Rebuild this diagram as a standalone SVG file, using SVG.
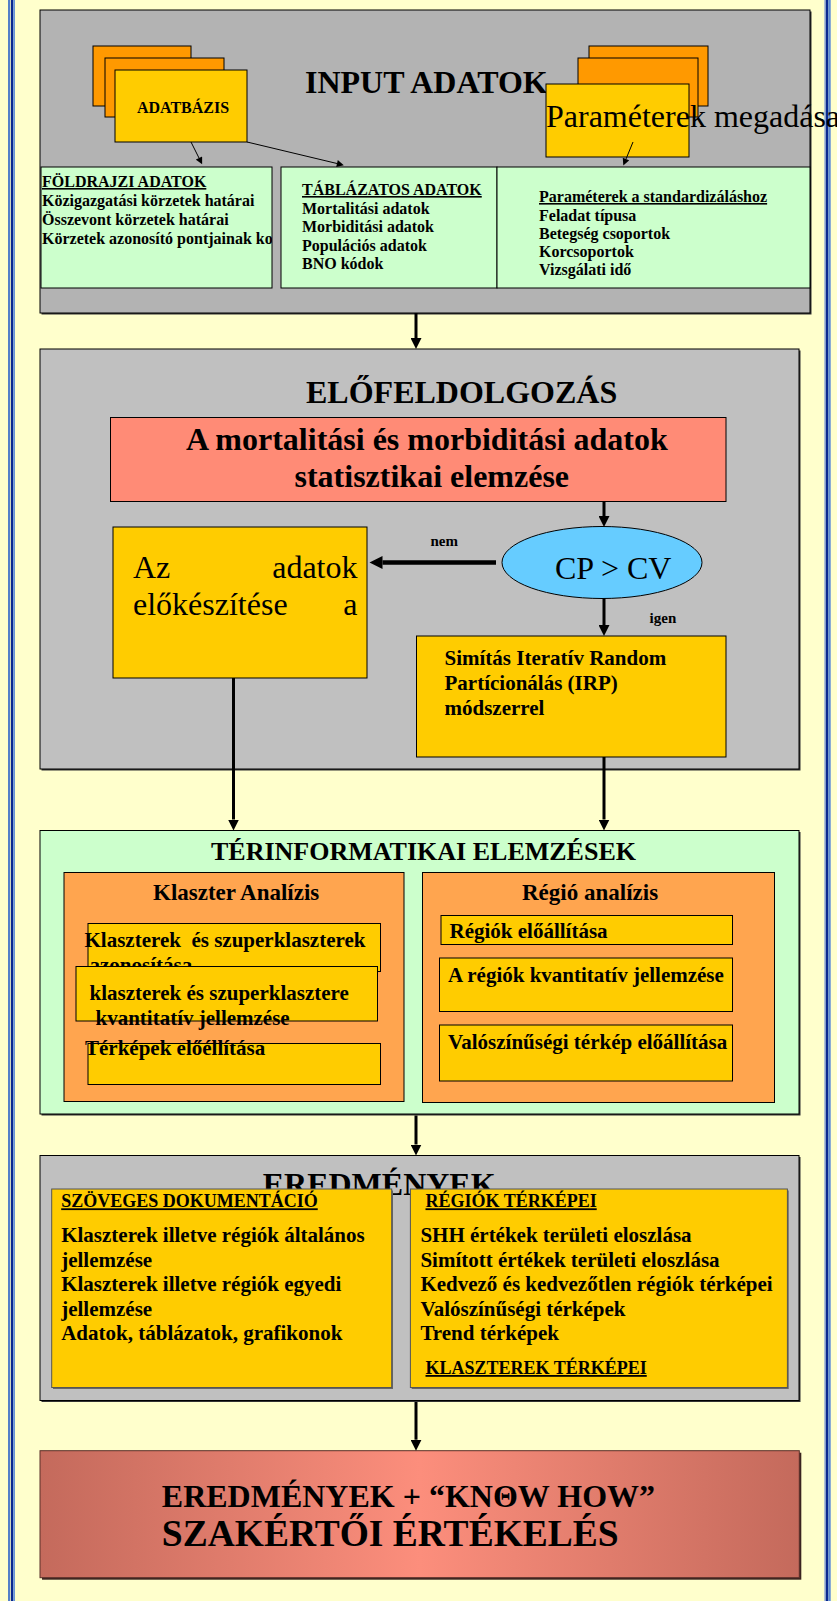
<svg xmlns="http://www.w3.org/2000/svg" width="837" height="1601" viewBox="0 0 837 1601">
<style>
text{font-family:"Liberation Serif","Times New Roman",serif;fill:#000}
.b{font-weight:bold}
.u{text-decoration:underline}
.box{stroke:#000;stroke-width:1}
.shadow{fill:#333}
.gray1{fill:#B3B3B3}
.gray2{fill:#C0C0C0}
.green{fill:#CCFFCC}
.orange{fill:#FF9900}
.yellow{fill:#FFCC00}
.org2{fill:#FFA54F}
.salmon{fill:#FF8B76}
.conn{stroke:#000;fill:none}
.thick{stroke-width:3}
.thin{stroke-width:1}
.s16{font-size:16px}
.s21{font-size:21px}
.s32{font-size:32px}
</style>
<defs>
<marker id="ah" viewBox="0 0 10 10" refX="0" refY="5" markerWidth="11" markerHeight="11" markerUnits="userSpaceOnUse" orient="auto"><path d="M0,0 L10,5 L0,10 z" fill="#000"/></marker>
<marker id="ahbig" viewBox="0 0 10 10" refX="0" refY="5" markerWidth="14" markerHeight="13" markerUnits="userSpaceOnUse" orient="auto"><path d="M0,0 L10,5 L0,10 z" fill="#000"/></marker>
<marker id="ahs" viewBox="0 0 10 10" refX="0" refY="5" markerWidth="8" markerHeight="7" markerUnits="userSpaceOnUse" orient="auto"><path d="M0,0 L10,5 L0,10 z" fill="#000"/></marker>
<linearGradient id="fin" x1="0" y1="0" x2="1" y2="0">
<stop offset="0" stop-color="#C46A5C"/>
<stop offset="0.5" stop-color="#FC8E7C"/>
<stop offset="1" stop-color="#C46A5C"/>
</linearGradient>
<clipPath id="clipL"><rect x="41" y="167" width="231" height="121"/></clipPath>
</defs>

<rect x="0" y="0" width="837" height="1601" fill="#FFFFCC"/>
<g id="page-border">
<rect x="8" y="0" width="2" height="1601" fill="#5580C8"/>
<rect x="10.8" y="0" width="2.4" height="1601" fill="#0A2890"/>
<rect x="13.2" y="0" width="1.8" height="1601" fill="#6A94D8"/>
<rect x="824.3" y="0" width="1.5" height="1601" fill="#8FA8D8"/>
<rect x="825.8" y="0" width="2.5" height="1601" fill="#0A2890"/>
<rect x="828.3" y="0" width="2.4" height="1601" fill="#5B8AD6"/>
</g>

<g id="input-adatok">
<rect class="shadow" x="41.5" y="11.5" width="770" height="303"/>
<rect class="box gray1" x="40" y="10" width="770" height="303"/>
<text class="b s32" x="305" y="93">INPUT ADATOK</text>
</g>

<g id="adatbazis">
<rect class="box orange" x="93" y="46" width="98" height="60"/>
<rect class="box orange" x="105" y="58" width="119" height="59"/>
<rect class="box yellow" x="115" y="70" width="132" height="72"/>
<text class="b s16" x="183" y="113" text-anchor="middle">ADATBÁZIS</text>
</g>

<g id="parameterek">
<rect class="box orange" x="589" y="46" width="119" height="60"/>
<rect class="box orange" x="578" y="58" width="120" height="59"/>
<rect class="yellow" x="546" y="84" width="143" height="73"/>
<text x="546" y="127" font-size="32">Paraméterek megadása</text>
<rect x="546" y="84" width="143" height="73" fill="none" stroke="#000" stroke-width="1"/>
</g>

<g id="foldrajzi">
<rect class="box green" x="41" y="167" width="231" height="121"/>
<g clip-path="url(#clipL)">
<text class="b s16 u" x="42" y="187">FÖLDRAJZI ADATOK</text>
<text class="b s16" x="42" y="206">Közigazgatási körzetek határai</text>
<text class="b s16" x="42" y="225">Összevont körzetek határai</text>
<text class="b s16" x="42" y="244">Körzetek azonosító pontjainak koo</text>
</g>
</g>

<g id="tablazatos">
<rect class="box green" x="281" y="167" width="216" height="121"/>
<text class="b s16 u" x="302" y="195">TÁBLÁZATOS ADATOK</text>
<text class="b s16" x="302" y="214">Mortalitási adatok</text>
<text class="b s16" x="302" y="232">Morbiditási adatok</text>
<text class="b s16" x="302" y="251">Populációs adatok</text>
<text class="b s16" x="302" y="269">BNO kódok</text>
</g>

<g id="standard">
<rect class="box green" x="497" y="167" width="313" height="121"/>
<text class="b s16 u" x="539" y="202">Paraméterek a standardizáláshoz</text>
<text class="b s16" x="539" y="221">Feladat típusa</text>
<text class="b s16" x="539" y="239">Betegség csoportok</text>
<text class="b s16" x="539" y="257">Korcsoportok</text>
<text class="b s16" x="539" y="275">Vizsgálati idő</text>
</g>

<g id="elofeldolgozas">
<rect class="shadow" x="41.5" y="350.5" width="759" height="420"/>
<rect class="box gray2" x="40" y="349" width="759" height="420"/>
<text class="b s32" x="306" y="403">ELŐFELDOLGOZÁS</text>
</g>

<g id="statisztikai">
<rect class="box salmon" x="110.5" y="417.5" width="615.5" height="84"/>
<text class="b" font-size="32" x="186" y="450">A mortalitási és morbiditási adatok</text>
<text class="b" font-size="32" x="294.5" y="487">statisztikai elemzése</text>
</g>

<g id="elokeszites">
<rect class="box yellow" x="113" y="527" width="254" height="151"/>
<text class="s32" x="133" y="578">Az</text>
<text class="s32" x="357.5" y="578" text-anchor="end">adatok</text>
<text class="s32" x="133" y="615">előkészítése</text>
<text class="s32" x="357.5" y="615" text-anchor="end">a</text>
</g>

<g id="cpcv">
<ellipse cx="602" cy="562.5" rx="100" ry="36" fill="#66CCFF" stroke="#000" stroke-width="1"/>
<text class="s32" x="555" y="579">CP &gt; CV</text>
</g>

<g id="irp">
<rect class="box yellow" x="416.5" y="636" width="309.5" height="121"/>
<text class="b s21" x="444.5" y="665">Simítás Iteratív Random</text>
<text class="b s21" x="444.5" y="690">Partícionálás (IRP)</text>
<text class="b s21" x="444.5" y="715">módszerrel</text>
</g>

<g id="terinformatikai">
<rect class="shadow" x="41.5" y="832" width="759" height="283.5"/>
<rect class="box green" x="40" y="830.5" width="759" height="283.5"/>
<text class="b" font-size="26" x="211" y="860">TÉRINFORMATIKAI ELEMZÉSEK</text>
</g>

<g id="klaszter">
<rect class="box org2" x="64" y="872.5" width="340" height="229"/>
<text class="b" font-size="23" x="153" y="900">Klaszter Analízis</text>
<rect class="box yellow" x="88" y="923.5" width="292.5" height="48"/>
<text class="b s21" x="84.5" y="946.7">Klaszterek&#160; és szuperklaszterek</text>
<text class="b s21" x="89.5" y="972">azonosítása</text>
<rect class="box yellow" x="76" y="966.5" width="301.5" height="54.5"/>
<text class="b s21" x="89.5" y="1000">klaszterek és szuperklasztere</text>
<text class="b s21" x="95.5" y="1025">kvantitatív jellemzése</text>
<rect class="box yellow" x="88" y="1043.5" width="292.5" height="41"/>
<text class="b s21" x="85" y="1055">Térképek előéllítása</text>
</g>

<g id="regio">
<rect class="box org2" x="422.5" y="872.5" width="352" height="230"/>
<text class="b" font-size="23" x="522" y="900">Régió analízis</text>
<rect class="box yellow" x="441" y="915.5" width="291.5" height="29"/>
<text class="b s21" x="449.5" y="938">Régiók előállítása</text>
<rect class="box yellow" x="439.5" y="958" width="293" height="53.5"/>
<text class="b s21" x="448" y="981.7">A régiók kvantitatív jellemzése</text>
<rect class="box yellow" x="439.5" y="1025" width="293" height="56"/>
<text class="b s21" x="448" y="1049.3">Valószínűségi térkép előállítása</text>
</g>

<g id="eredmenyek">
<rect class="shadow" x="41.5" y="1157" width="759" height="245"/>
<rect class="box gray2" x="40" y="1155.5" width="759" height="245"/>
<text class="b s32" x="262.7" y="1194.5">EREDMÉNYEK</text>
</g>

<g id="szoveges">
<rect x="53" y="1190.5" width="340" height="198.5" fill="#666"/>
<rect x="51.7" y="1189" width="340" height="198.5" fill="#FFCC00" stroke="#555" stroke-width="1"/>
<text class="b u" font-size="18" x="61.2" y="1207.3">SZÖVEGES DOKUMENTÁCIÓ</text>
<text class="b s21" x="61.2" y="1242">Klaszterek illetve régiók általános</text>
<text class="b s21" x="61.2" y="1266.5">jellemzése</text>
<text class="b s21" x="61.2" y="1291">Klaszterek illetve régiók egyedi</text>
<text class="b s21" x="61.2" y="1315.5">jellemzése</text>
<text class="b s21" x="61.2" y="1340">Adatok, táblázatok, grafikonok</text>
</g>

<g id="regiok-terkepei">
<rect x="411.7" y="1190.5" width="377" height="198.5" fill="#666"/>
<rect x="410.4" y="1189" width="377" height="198.5" fill="#FFCC00" stroke="#555" stroke-width="1"/>
<text class="b u" font-size="18" x="425.5" y="1207.3">RÉGIÓK TÉRKÉPEI</text>
<text class="b s21" x="420.4" y="1242">SHH értékek területi eloszlása</text>
<text class="b s21" x="420.4" y="1266.5">Simított értékek területi eloszlása</text>
<text class="b s21" x="420.4" y="1291">Kedvező és kedvezőtlen régiók térképei</text>
<text class="b s21" x="420.4" y="1315.5">Valószínűségi térképek</text>
<text class="b s21" x="420.4" y="1340">Trend térképek</text>
<text class="b u" font-size="18" x="425.5" y="1374">KLASZTEREK TÉRKÉPEI</text>
</g>

<g id="szakertoi">
<rect x="42" y="1452.7" width="759.3" height="127" fill="#3A2420"/>
<rect x="40" y="1450.7" width="759.3" height="127" fill="url(#fin)" stroke="#5a3028" stroke-width="1"/>
<text class="b s32" x="161.8" y="1507.3">EREDMÉNYEK + “KNΘW HOW”</text>
<text class="b" font-size="37.5" x="161.8" y="1546">SZAKÉRTŐI ÉRTÉKELÉS</text>
</g>

<g id="connectors">
<line class="conn thin" x1="191" y1="142" x2="199" y2="158" marker-end="url(#ahs)"/>
<line class="conn thin" x1="247" y1="142" x2="337" y2="163.5" marker-end="url(#ahs)"/>
<line class="conn thin" x1="633" y1="142" x2="626" y2="159" marker-end="url(#ahs)"/>
<line class="conn thick" x1="416" y1="313" x2="416" y2="338" marker-end="url(#ah)"/>
<line class="conn thick" x1="604" y1="501.5" x2="604" y2="516" marker-end="url(#ah)"/>
<line class="conn" stroke-width="4.5" x1="496" y1="562.5" x2="382.5" y2="562.5" marker-end="url(#ahbig)"/>
<text class="b" font-size="15" x="430.5" y="545.7">nem</text>
<line class="conn thick" x1="604" y1="598.5" x2="604" y2="625" marker-end="url(#ah)"/>
<text class="b" font-size="15" x="649.6" y="623">igen</text>
<line class="conn thick" x1="233.5" y1="678" x2="233.5" y2="819.5" marker-end="url(#ah)"/>
<line class="conn thick" x1="604" y1="757" x2="604" y2="819.5" marker-end="url(#ah)"/>
<line class="conn thick" x1="416" y1="1115.5" x2="416" y2="1144.5" marker-end="url(#ah)"/>
<line class="conn thick" x1="416" y1="1402" x2="416" y2="1439.7" marker-end="url(#ah)"/>
</g>
</svg>
